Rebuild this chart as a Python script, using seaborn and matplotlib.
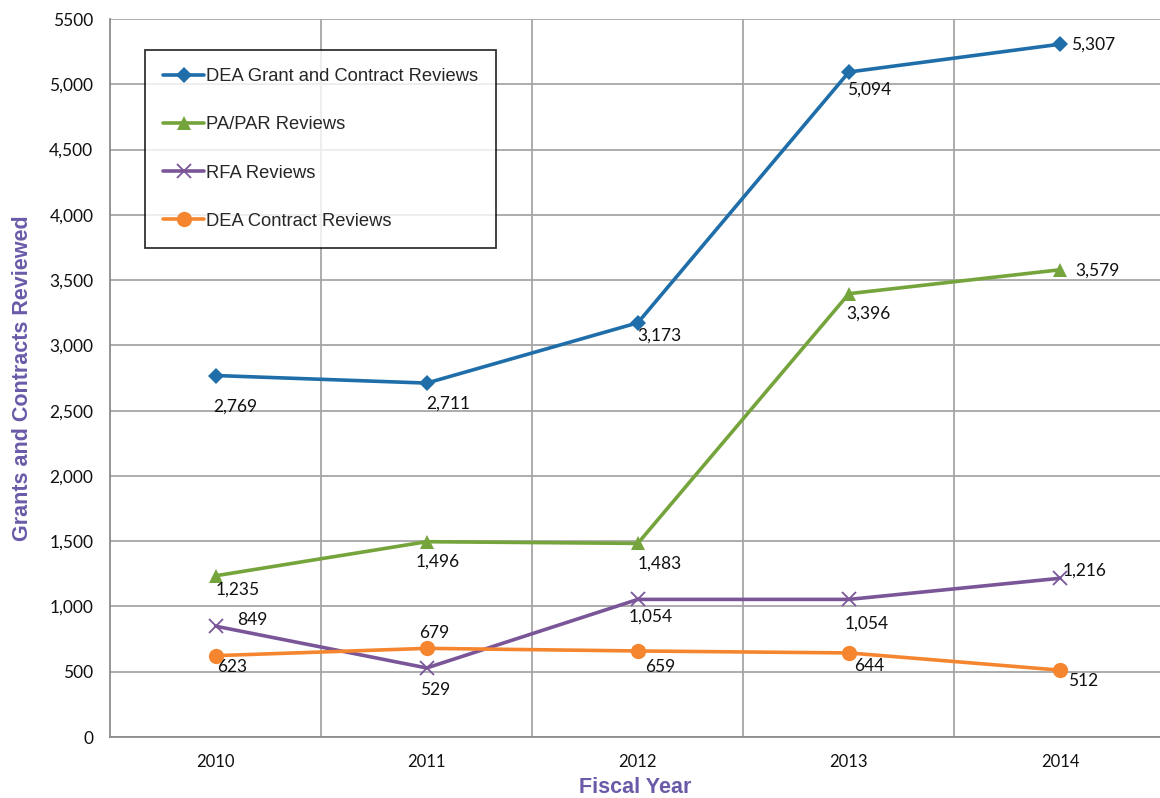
import matplotlib
matplotlib.use("Agg")
import matplotlib.pyplot as plt
import seaborn as sns
import pandas as pd
from matplotlib.ticker import FixedLocator

years = ["2010", "2011", "2012", "2013", "2014"]
series_names = ["DEA Grant and Contract Reviews", "PA/PAR Reviews", "RFA Reviews", "DEA Contract Reviews"]
dea_grant_contract = [2769, 2711, 3173, 5094, 5307]
pa_par = [1235, 1496, 1483, 3396, 3579]
rfa = [849, 529, 1054, 1054, 1216]
dea_contract = [623, 679, 659, 644, 512]
ytick_values = [0, 500, 1000, 1500, 2000, 2500, 3000, 3500, 4000, 4500, 5000, 5500]
ytick_labels = ["0", "500", "1,000", "1,500", "2,000", "2,500", "3,000", "3,500", "4,000", "4,500", "5,000", "5500"]

all_values = [dea_grant_contract, pa_par, rfa, dea_contract]
rows = []
for name, vals in zip(series_names, all_values):
    for i, v in enumerate(vals):
        rows.append({"xi": i, "value": v, "series": name})
df = pd.DataFrame(rows)

colors = {"DEA Grant and Contract Reviews": "#1F6EAA",
          "PA/PAR Reviews": "#76A43C",
          "RFA Reviews": "#7A5699",
          "DEA Contract Reviews": "#F5862F"}
markers = {"DEA Grant and Contract Reviews": "D",
           "PA/PAR Reviews": "^",
           "RFA Reviews": "x",
           "DEA Contract Reviews": "o"}
msizes = {"DEA Grant and Contract Reviews": 8,
          "PA/PAR Reviews": 10,
          "RFA Reviews": 10,
          "DEA Contract Reviews": 11}

# label offsets in pixels (dx, dy), relative to data points
offsets = {
    "DEA Grant and Contract Reviews": [(20, -31), (22, -21), (22, -13), (20, -18), (33, 0)],
    "PA/PAR Reviews": [(22, -14), (11, -20), (22, -20), (20, -20), (37, -1)],
    "RFA Reviews": [(37, 6), (8, -22), (13, -17), (18, -24), (25, 8)],
    "DEA Contract Reviews": [(17, -11), (8, 15), (22, -16), (20, -13), (23, -11)],
}

sns.set_theme(style="white")
plt.rcParams["font.family"] = ["Liberation Sans", "DejaVu Sans"]

fig = plt.figure(figsize=(11.6, 7.98), dpi=100)
ax = fig.add_axes([110 / 1160, 1 - 737 / 798, 1 - 110 / 1160, (737 - 19) / 798])

for name in series_names:
    sub = df[df["series"] == name]
    mk = markers[name]
    sns.lineplot(data=sub, x="xi", y="value", ax=ax, color=colors[name], linewidth=2.6,
                 marker=mk, markersize=msizes[name],
                 markeredgewidth=1.3 if mk == "x" else 0,
                 markeredgecolor=colors[name], label=name, legend=False, zorder=3)

for name, vals in zip(series_names, all_values):
    for i, v in enumerate(vals):
        dx, dy = offsets[name][i]
        ax.annotate(f"{v:,}", (i, v), xytext=(dx, dy), textcoords="offset pixels",
                    ha="center", va="center", fontsize=12.5, family=["Lato", "DejaVu Sans"],
                    color="#111111", zorder=4)

ax.set_xlim(-0.5, (1160 - 215) / 211.25)
ax.set_ylim(0, 5500)
ax.set_xticks(range(len(years)))
ax.set_xticklabels(years, family=["Lato", "DejaVu Sans"], fontsize=12)
ax.xaxis.set_minor_locator(FixedLocator([0.5, 1.5, 2.5, 3.5]))
ax.set_yticks(ytick_values)
ax.set_yticklabels(ytick_labels, family=["Lato", "DejaVu Sans"], fontsize=12.5)
ax.tick_params(axis="both", which="both", length=0, colors="#111111")
ax.tick_params(axis="x", pad=12)
ax.tick_params(axis="y", pad=12)

ax.grid(False)
ax.yaxis.grid(True, color="#A6A6A6", linewidth=1.3)
ax.xaxis.grid(True, which="minor", color="#A6A6A6", linewidth=1.3)
ax.set_axisbelow(True)
for side in ["top", "right"]:
    ax.spines[side].set_visible(False)
for side in ["left", "bottom"]:
    ax.spines[side].set_color("#8C8C8C")
    ax.spines[side].set_linewidth(1.3)

purple = "#6A5AA8"
ax.set_xlabel("Fiscal Year", fontsize=15.5, fontweight="bold", color=purple, labelpad=5)
ax.set_ylabel("Grants and Contracts Reviewed", fontsize=15.5, fontweight="bold", color=purple, labelpad=12)

leg = ax.legend(loc="upper left", bbox_to_anchor=(35 / 1050, (737 - 50) / 718), borderaxespad=0,
                fancybox=False, frameon=True, fontsize=13.2, labelspacing=1.7,
                handlelength=2.2, handletextpad=0.1, borderpad=1.0)
leg.get_frame().set_edgecolor("black")
leg.get_frame().set_linewidth(1.3)

fig.savefig("out.png", dpi=100)
